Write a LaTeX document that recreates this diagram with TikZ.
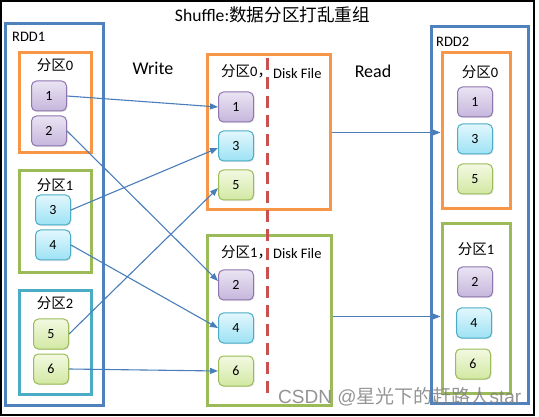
\documentclass[tikz,border=0pt]{standalone}
\usepackage{fontspec}
\setmainfont{Carlito}
\newfontfamily\cjk{Noto Sans CJK SC}
\newfontfamily\wmfont{Liberation Sans}
\usetikzlibrary{arrows.meta,fit,shadows}
\definecolor{rddblue}{HTML}{4F81BD}
\definecolor{porange}{HTML}{F79646}
\definecolor{pgreen}{HTML}{9BBB59}
\definecolor{pteal}{HTML}{4BACC6}
\definecolor{dashred}{HTML}{C8504E}
\definecolor{arrowblue}{HTML}{4A7EBB}
\definecolor{purB}{HTML}{8E75B0}
\definecolor{purT}{HTML}{EAE4F3}
\definecolor{purBt}{HTML}{C5B6DC}
\definecolor{cyaB}{HTML}{4BACC6}
\definecolor{cyaT}{HTML}{E2F7FD}
\definecolor{cyaBt}{HTML}{9DE2F4}
\definecolor{grnB}{HTML}{9BBB59}
\definecolor{grnT}{HTML}{F3F9E2}
\definecolor{grnBt}{HTML}{D2E8A2}
\definecolor{wmgray}{RGB}{130,130,130}
\tikzset{
  partbox/.style={draw=#1, line width=3pt, inner sep=0pt},
  item/.style={rounded corners=5pt, minimum width=35pt, minimum height=30pt,
    line width=1pt, inner sep=0pt, font=\fontsize{14}{16}\selectfont,
    drop shadow={opacity=0.18, shadow xshift=1pt, shadow yshift=-1.2pt}},
  pur/.style={item, draw=purB, top color=purT, bottom color=purBt},
  cya/.style={item, draw=cyaB, top color=cyaT, bottom color=cyaBt},
  grn/.style={item, draw=grnB, top color=grnT, bottom color=grnBt},
  plabel/.style={font=\fontsize{14.5}{16}\selectfont, inner sep=0pt},
  biglabel/.style={font=\fontsize{18}{20}\selectfont, inner sep=0pt},
  smlabel/.style={font=\fontsize{14.5}{16}\selectfont, inner sep=0pt, anchor=west},
  link/.style={draw=arrowblue, line width=1.1pt, -{Triangle[length=8pt,width=6pt]}},
}
\begin{document}
\begin{tikzpicture}[x=1pt,y=-1pt]
\useasboundingbox (0,0) rectangle (539,417);
\fill[white] (0,0) rectangle (539,417);
\draw[line width=1.3pt] (1,1) rectangle (534,415);

% title
\node[inner sep=0pt, font=\fontsize{17.6}{19}\selectfont] (title) at (272.5,15) {Shuffle:{\cjk 数据分区打乱重组}};

% RDD1
\node[partbox=rddblue, fit={(5,24) (103,405)}] (rdd1) {};
\node[smlabel] (rdd1l) at (12,37) {RDD1};
\node[partbox=porange, fit={(19,53) (91,153)}] (lp0) {};
\node[partbox=pgreen, fit={(19,171) (91,273)}] (lp1) {};
\node[partbox=pteal, fit={(19,291) (91,394)}] (lp2) {};
\node[plabel] (lp0l) at (55,65) {{\cjk 分区}0};
\node[plabel] (lp1l) at (55,185) {{\cjk 分区}1};
\node[plabel] (lp2l) at (55,303) {{\cjk 分区}2};
\node[pur] (a1) at (49,96) {1};
\node[pur] (a2) at (49,131) {2};
\node[cya] (a3) at (53,210) {3};
\node[cya] (a4) at (53,245) {4};
\node[grn] (a5) at (51,334) {5};
\node[grn] (a6) at (51,369) {6};

% middle
\node[partbox=porange, fit={(207,55) (330,210)}] (mp0) {};
\node[partbox=pgreen, fit={(207,236) (331,405)}] (mp1) {};
\node[plabel, anchor=west] (mp0l) at (221,71) {{\cjk 分区}0{\cjk ，}};
\node[plabel, anchor=west] (mp1l) at (221,252) {{\cjk 分区}1{\cjk ，}};
\node[smlabel] (mp0d) at (273,74) {Disk File};
\node[smlabel] (mp1d) at (273,254) {Disk File};
\coordinate (dtop) at (267.5,58);
\coordinate (dbot) at (267.5,396);
\draw[dashred, line width=3.5pt, dash pattern=on 12pt off 7pt] (dtop) -- (dbot);
\node[pur] (b1) at (236,107) {1};
\node[cya] (b3) at (236,146) {3};
\node[grn] (b5) at (236,185) {5};
\node[pur] (b2) at (236,285) {2};
\node[cya] (b4) at (236,328) {4};
\node[grn] (b6) at (236,371) {6};

% RDD2
\node[partbox=rddblue, fit={(431,27) (528,403)}] (rdd2) {};
\node[smlabel] (rdd2l) at (436,42) {RDD2};
\node[partbox=porange, fit={(442,53) (510,209)}] (rp0) {};
\node[partbox=pgreen, fit={(442,224) (510,393)}] (rp1) {};
\node[plabel] (rp0l) at (480,72) {{\cjk 分区}0};
\node[plabel] (rp1l) at (476,249) {{\cjk 分区}1};
\node[pur] (c1) at (475,102) {1};
\node[cya] (c3) at (475,139) {3};
\node[grn] (c5) at (475,179) {5};
\node[pur] (c2) at (475,282) {2};
\node[cya] (c4) at (474,323) {4};
\node[grn] (c6) at (473,364) {6};

% labels
\node[biglabel] (write) at (153,68) {Write};
\node[biglabel] (read) at (373,71) {Read};

% connectors
\draw[link] (a1.east) -- (b1.west);
\draw[link] (a2.east) -- ([yshift=4pt]b2.west);
\draw[link] (a3.east) -- ([yshift=-2pt]b3.west);
\draw[link] (a4.east) -- (b4.west);
\draw[link] (a5.east) -- ([yshift=-3pt]b5.west);
\draw[link] (a6.east) -- (b6.west);
\draw[link] (mp0.east) -- (mp0.east -| rp0.west);
\draw[link] ([yshift=4pt]mp1.east) -- ([yshift=4pt]mp1.east -| rp1.west);

% watermark
\node[inner sep=0pt, anchor=west, text=wmgray, opacity=0.85, font=\wmfont\fontsize{19}{21}\selectfont] (wm) at (278,397) {CSDN @{\cjk 星光下的赶路人}star};
\end{tikzpicture}
\end{document}
